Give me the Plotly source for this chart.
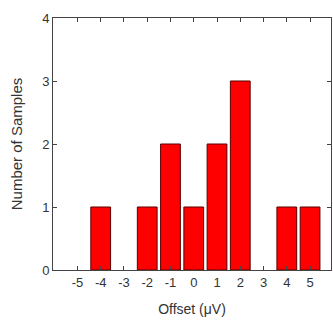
import plotly.graph_objects as go

offsets = [-4, -2, -1, 0, 1, 2, 4, 5]
counts = [1, 1, 2, 1, 2, 3, 1, 1]
x_ticks = [-5, -4, -3, -2, -1, 0, 1, 2, 3, 4, 5]
x_labels = ["-5", "-4", "-3", "-2", "-1", "0", "1", "2", "3", "4", "5"]
y_ticks = [0, 1, 2, 3, 4]

fig = go.Figure(go.Bar(
    x=offsets, y=counts, width=0.85,
    marker=dict(color="#ff0000", line=dict(color="#5a0000", width=1)),
))

axis_common = dict(
    showline=True, linecolor="#444", linewidth=1, mirror="ticks",
    ticks="inside", ticklen=4, tickcolor="#444", showgrid=False, zeroline=False,
    automargin=False,
    tickfont=dict(family="Liberation Sans, Arial", size=13, color="#333"),
)
fig.update_xaxes(range=[-6.05, 5.9], tickvals=x_ticks, ticktext=x_labels,
                 title=dict(text="Offset (μV)", standoff=15,
                            font=dict(family="Liberation Sans, Arial", size=14, color="#333")), **axis_common)
fig.update_yaxes(range=[0, 4], tickvals=y_ticks,
                 title=dict(text="Number of Samples",
                            font=dict(family="Liberation Sans, Arial", size=15, color="#333")), **axis_common)

fig.update_layout(
    width=333, height=322, margin=dict(l=53, r=2, t=18, b=52),
    plot_bgcolor="white", paper_bgcolor="white", showlegend=False,
)
fig.write_html("out.html", config={"displayModeBar": False},
               post_script="document.body.style.margin='0';document.body.style.overflow='hidden';")
